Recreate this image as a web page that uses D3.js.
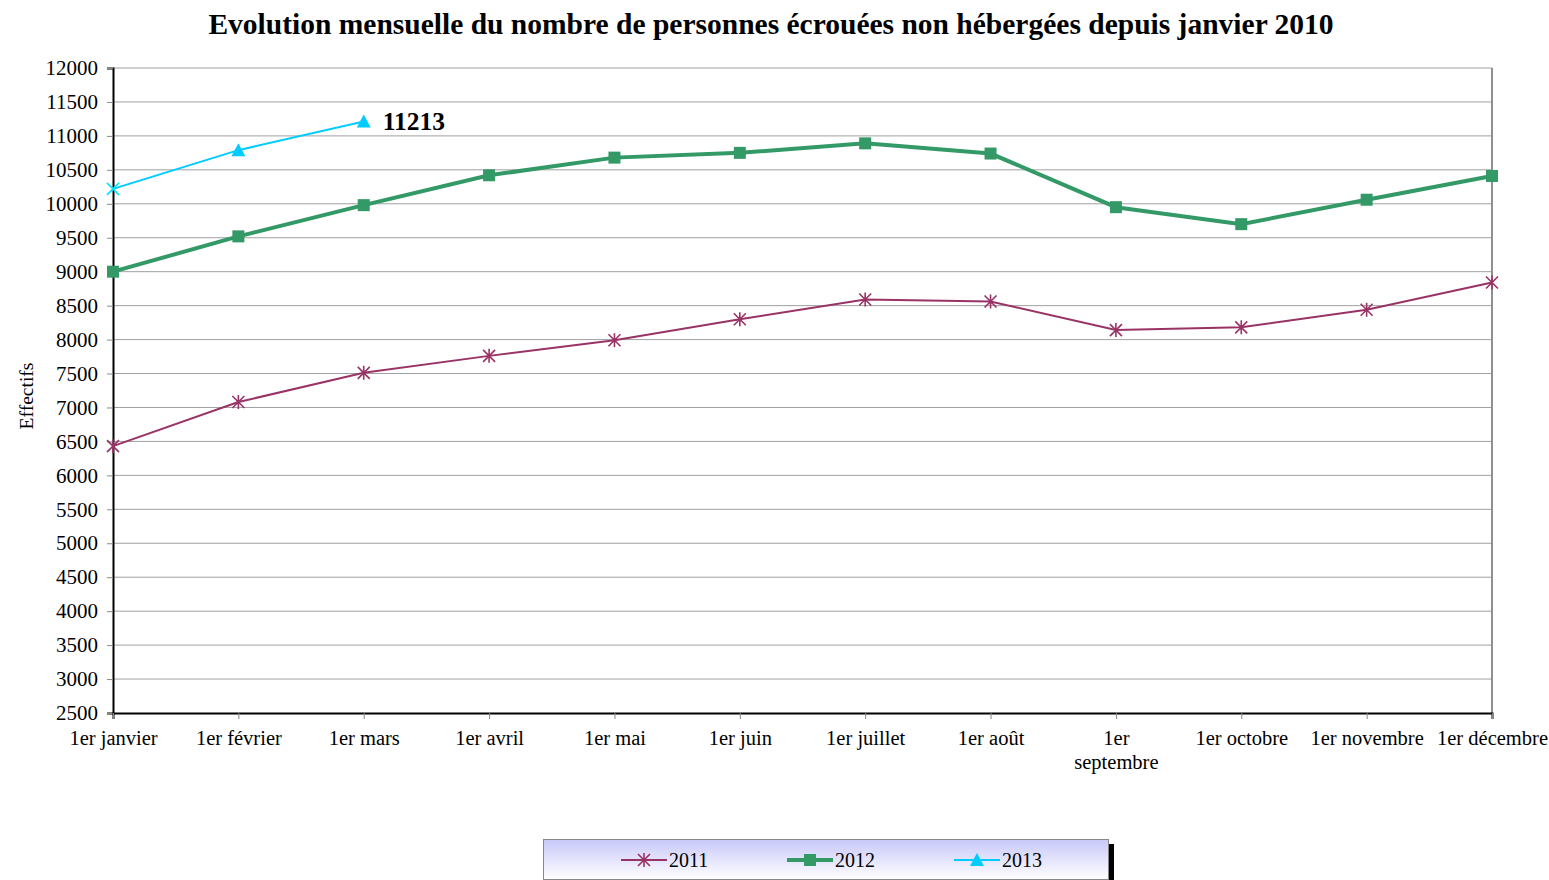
<!DOCTYPE html>
<html><head><meta charset="utf-8">
<script src="https://cdn.jsdelivr.net/npm/d3@7"></script>
<style>body{margin:0;background:#fff;} text{font-family:"Liberation Serif","Times New Roman",serif;}</style>
</head><body>
<svg id="c" width="1549" height="880"></svg>
<script>
const months = ["1er janvier","1er février","1er mars","1er avril","1er mai","1er juin","1er juillet","1er août","1er septembre","1er octobre","1er novembre","1er décembre"];
const v2011 = [6430,7080,7510,7760,7990,8300,8590,8560,8140,8180,8440,8840];
const v2012 = [9000,9520,9980,10420,10680,10750,10890,10740,9950,9700,10060,10410];
const v2013 = [10220,10790,11213];
const yTicks = d3.range(2500,12001,500);
const title = "Evolution mensuelle du nombre de personnes écrouées non hébergées depuis janvier 2010";

const svg = d3.select("#c");
const L=113,R=1492,T=68,B=713;
const x = d3.scalePoint().domain(months).range([L,R]).padding(0);
const y = d3.scaleLinear().domain([2500,12000]).range([B,T]);

svg.append("text").attr("x",771).attr("y",34).attr("text-anchor","middle")
  .attr("font-size",29.5).attr("font-weight","bold").text(title);

// grid
svg.append("g").selectAll("line").data(yTicks.filter(d=>d>2500)).join("line")
  .attr("x1",L).attr("x2",R).attr("y1",d=>y(d)).attr("y2",d=>y(d))
  .attr("stroke","#a0a0a0").attr("stroke-width",1);
// right border
svg.append("line").attr("x1",R).attr("x2",R).attr("y1",T).attr("y2",B).attr("stroke","#909090").attr("stroke-width",2);

// y axis
const ya = svg.append("g").attr("transform",`translate(${L},0)`)
  .call(d3.axisLeft(y).tickValues(yTicks).tickSize(6).tickPadding(9).tickFormat(d3.format("d")));
ya.select(".domain").attr("stroke","#000").attr("stroke-width",2);
ya.selectAll(".tick line").attr("stroke","#888");
ya.selectAll("text").attr("font-size",21).attr("fill","#000").attr("font-family","Liberation Serif");
// x axis
const xa = svg.append("g").attr("transform",`translate(0,${B})`)
  .call(d3.axisBottom(x).tickSize(6).tickPadding(11));
xa.select(".domain").attr("stroke","#000").attr("stroke-width",2);
xa.selectAll(".tick line").attr("stroke","#888");
xa.selectAll("text").attr("font-size",20.5).attr("fill","#000").attr("font-family","Liberation Serif")
  .each(function(d){
    if(d==="1er septembre"){
      const t=d3.select(this); t.text(null);
      t.append("tspan").attr("x",0).attr("dy","0.71em").text("1er");
      t.append("tspan").attr("x",0).attr("dy","1.2em").text("septembre");
    }
  });

svg.append("text").attr("transform","translate(33,396) rotate(-90)").attr("text-anchor","middle")
  .attr("font-size",19.5).text("Effectifs");

const line = d3.line().x((d,i)=>x(months[i])).y(d=>y(d));
const c11="#993366",c12="#339966",c13="#00ccff";

svg.append("path").datum(v2011).attr("d",line).attr("fill","none").attr("stroke",c11).attr("stroke-width",2);
svg.append("path").datum(v2012).attr("d",line).attr("fill","none").attr("stroke",c12).attr("stroke-width",4);
svg.append("path").datum(v2013).attr("d",line).attr("fill","none").attr("stroke",c13).attr("stroke-width",2);

function star(g,cx,cy,col){
  const s=6;
  g.append("path").attr("d",`M${cx-s},${cy-s}L${cx+s},${cy+s}M${cx-s},${cy+s}L${cx+s},${cy-s}M${cx},${cy-s-1}L${cx},${cy+s+1}`)
   .attr("stroke",col).attr("stroke-width",1.6).attr("fill","none");
}
function square(g,cx,cy,col){ g.append("rect").attr("x",cx-6).attr("y",cy-6).attr("width",12).attr("height",12).attr("fill",col); }
function tri(g,cx,cy,col){ g.append("path").attr("d",`M${cx},${cy-7}L${cx+7},${cy+6}L${cx-7},${cy+6}Z`).attr("fill",col); }
function cross(g,cx,cy,col){ const s=6; g.append("path").attr("d",`M${cx-s},${cy-s}L${cx+s},${cy+s}M${cx-s},${cy+s}L${cx+s},${cy-s}`).attr("stroke",col).attr("stroke-width",1.6); }

const m = svg.append("g");
v2011.forEach((d,i)=>star(m,x(months[i]),y(d),c11));
v2012.forEach((d,i)=>square(m,x(months[i]),y(d),c12));
v2013.forEach((d,i)=>{ if(i===0) cross(m,x(months[i]),y(d),"#00e5ff"); else tri(m,x(months[i]),y(d),c13); });

svg.append("text").attr("x",x(months[2])+19).attr("y",y(v2013[2])+9).attr("font-size",25.5).attr("font-weight","bold").text(d3.format("d")(v2013[2]));

// legend
const defs=svg.append("defs");
const gr=defs.append("linearGradient").attr("id","lg").attr("x1",0).attr("x2",0).attr("y1",0).attr("y2",1);
gr.append("stop").attr("offset","0%").attr("stop-color","#c8c8fa");
gr.append("stop").attr("offset","100%").attr("stop-color","#ffffff");
svg.append("rect").attr("x",1108).attr("y",844).attr("width",6).attr("height",36).attr("fill","#000");
svg.append("rect").attr("x",543.5).attr("y",839.5).attr("width",565).attr("height",40).attr("fill","url(#lg)").attr("stroke","#888");
const items=[["2011",c11,star,2],["2012",c12,square,4],["2013",c13,tri,2]];
const lx=[621,787,954];
items.forEach((it,i)=>{
  const g=svg.append("g"); const x0=lx[i], yy=860;
  g.append("line").attr("x1",x0).attr("x2",x0+46).attr("y1",yy).attr("y2",yy).attr("stroke",it[1]).attr("stroke-width",it[3]);
  it[2](g,x0+23,yy,it[1]);
  g.append("text").attr("x",x0+48).attr("y",yy+7).attr("font-size",20).text(it[0]);
});
</script>
</body></html>
